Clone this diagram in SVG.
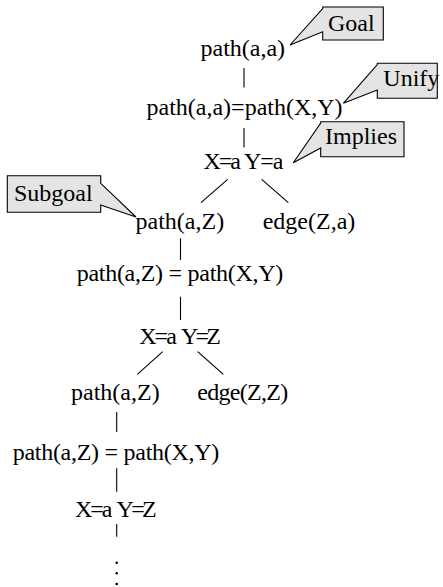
<svg xmlns="http://www.w3.org/2000/svg" width="443" height="587" viewBox="0 0 443 587">
<style>
text{font-family:"Liberation Serif","Times New Roman",serif;font-size:24px;fill:#000}
.edge{stroke:#000;stroke-width:1.1;fill:none}
.call{fill:#e4e4e4;stroke:#000;stroke-width:1.1;stroke-linejoin:miter}
</style>
<rect width="443" height="587" fill="#fff"/>
<g id="connectors">
<line class="edge" x1="244" y1="68" x2="244" y2="87.5"/>
<line class="edge" x1="244" y1="128" x2="244" y2="147.5"/>
<line class="edge" x1="227.7" y1="179.3" x2="201" y2="202.7"/>
<line class="edge" x1="261.7" y1="179.3" x2="288.3" y2="202.7"/>
<line class="edge" x1="180.5" y1="238.3" x2="180.5" y2="260"/>
<line class="edge" x1="180.5" y1="296.7" x2="180.5" y2="320"/>
<line class="edge" x1="162.7" y1="351.7" x2="137.3" y2="374.3"/>
<line class="edge" x1="197.7" y1="351.7" x2="223.3" y2="374.3"/>
<line class="edge" x1="116.7" y1="412" x2="116.7" y2="432"/>
<line class="edge" x1="116.7" y1="468.3" x2="116.7" y2="491.7"/>
<line class="edge" x1="116.7" y1="524" x2="116.7" y2="536.7"/>
</g>
<g id="n-goal-term"><text x="200.5" y="56">path(a,a)</text></g>
<g id="n-unify-term"><text x="146.5" y="114.5">path(a,a)=path(X,Y)</text></g>
<g id="n-implies-term">
<text x="203.5" y="169" textLength="37.5">X=a</text>
<text x="244" y="169" textLength="39.5">Y=a</text>
</g>
<g id="n-path1"><text x="135.5" y="228.5">path(a,Z)</text></g>
<g id="n-edge1"><text x="262.7" y="228.5">edge(Z,a)</text></g>
<g id="n-unify2"><text x="76.7" y="281" textLength="206.6">path(a,Z) = path(X,Y)</text></g>
<g id="n-bind2">
<text x="139.3" y="344.3" textLength="37.5">X=a</text>
<text x="181" y="344.3" textLength="40">Y=Z</text>
</g>
<g id="n-path3"><text x="71" y="400">path(a,Z)</text></g>
<g id="n-edge3"><text x="197.3" y="400" textLength="91">edge(Z,Z)</text></g>
<g id="n-unify4"><text x="12.7" y="460" textLength="206.6">path(a,Z) = path(X,Y)</text></g>
<g id="n-bind4">
<text x="75" y="516.7" textLength="37.5">X=a</text>
<text x="116.5" y="516.7" textLength="40.2">Y=Z</text>
</g>
<g id="n-ellipsis">
<circle cx="116.7" cy="562.7" r="1.3"/>
<circle cx="116.7" cy="573.3" r="1.3"/>
<circle cx="116.7" cy="584" r="1.3"/>
</g>
<g id="c-goal">
<path class="call" d="M322.7,7 H383.3 V40 H322.7 V31.7 L290,45 L322.7,8.5 Z"/>
<text x="328" y="31">Goal</text>
</g>
<g id="c-unify">
<path class="call" d="M377.3,63.3 H437.3 V98.3 H377.3 V90 L343.3,103.3 L377.3,64.5 Z"/>
<text x="383.3" y="86">Unify</text>
</g>
<g id="c-implies">
<path class="call" d="M320.7,121.7 H404 V156.7 H320.7 V148 L293.3,162.7 L320.7,123 Z"/>
<text x="325" y="144">Implies</text>
</g>
<g id="c-subgoal">
<path class="call" d="M7.3,175.7 H100.7 V183.3 L136,217 L100.7,205 V212.3 H7.3 Z"/>
<text x="14" y="201">Subgoal</text>
</g>
</svg>
